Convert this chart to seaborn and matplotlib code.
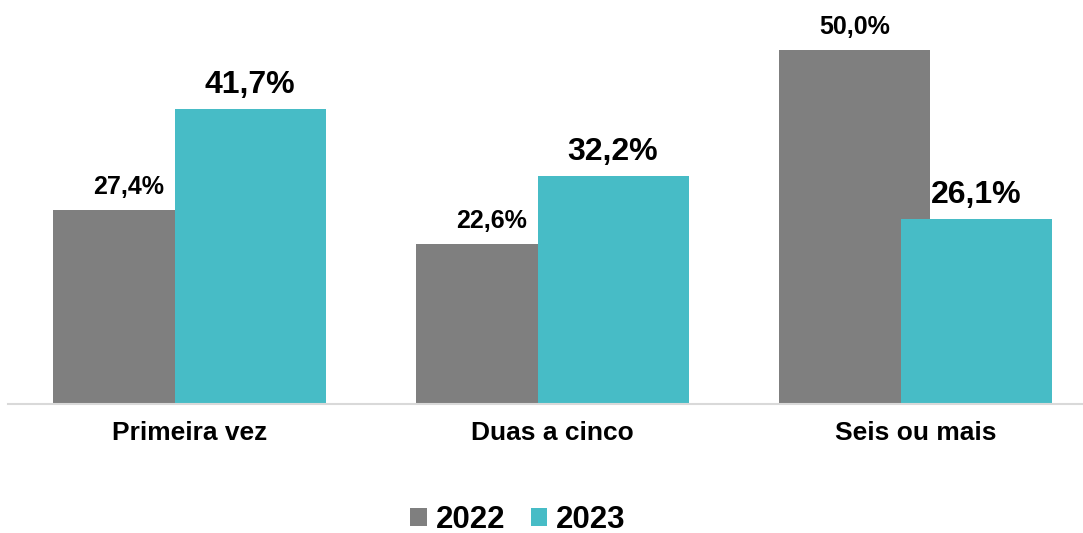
import matplotlib
matplotlib.use("Agg")
import matplotlib.pyplot as plt
import seaborn as sns
import pandas as pd

categories = ["Primeira vez", "Duas a cinco", "Seis ou mais"]
years = ["2022", "2023"]
values_2022 = [27.4, 22.6, 50.0]
values_2023 = [41.7, 32.2, 26.1]

colors = {"2022": "#7F7F7F", "2023": "#47BCC6"}
label_sizes = {"2022": 18, "2023": 23}

df = pd.DataFrame({
    "categoria": categories * 2,
    "ano": ["2022"] * 3 + ["2023"] * 3,
    "valor": values_2022 + values_2023,
})

sns.set_theme(style="white")
plt.rcParams["font.family"] = ["Liberation Sans", "DejaVu Sans"]
plt.rcParams["text.color"] = "black"

fig = plt.figure(figsize=(10.83, 5.33), dpi=100)
W, H = 1083, 533
ax = fig.add_axes([8 / W, (H - 404) / H, (W - 8) / W, 389 / H])

sns.barplot(data=df, x="categoria", y="valor", hue="ano", order=categories,
            hue_order=years, palette=colors, width=0.667, saturation=1,
            linewidth=0, ax=ax, legend=True)

# widen each bar so the two years overlap slightly
bar_w = 0.416
for patch in ax.patches:
    if patch.get_height() <= 0:
        continue
    cx = patch.get_x() + patch.get_width() / 2
    patch.set_x(cx - bar_w / 2)
    patch.set_width(bar_w)

# value labels above each bar
for container, year in zip(ax.containers, years):
    for patch in container:
        h = patch.get_height()
        cx = patch.get_x() + patch.get_width() / 2
        ax.annotate(f"{h:.1f}%".replace(".", ","), (cx, h),
                    xytext=(0, 11.8), textcoords="offset points",
                    ha="center", va="baseline", fontsize=label_sizes[year],
                    fontweight="bold", color="black")

ax.set_xlim(-0.5, (W - 8) / 363 - 0.5)
ax.set_ylim(0, 55)
ax.set_xlabel("")
ax.set_ylabel("")
ax.set_yticks([])
ax.tick_params(axis="x", length=0, pad=12, labelsize=19)
for lbl in ax.get_xticklabels():
    lbl.set_fontweight("bold")
    lbl.set_color("black")

for side in ["top", "right", "left"]:
    ax.spines[side].set_visible(False)
ax.spines["bottom"].set_color("#D9D9D9")
ax.spines["bottom"].set_linewidth(1.5)

handles, labels = ax.get_legend_handles_labels()
ax.get_legend().remove()
leg = fig.legend(handles, labels, loc="center", ncol=2,
                 bbox_to_anchor=(518 / W, 1 - 520 / H), frameon=False,
                 prop={"size": 22.5, "weight": "bold"},
                 handlelength=0.52, handleheight=0.52, handletextpad=0.3,
                 columnspacing=0.8, borderaxespad=0, labelcolor="black")

fig.savefig("out.png", dpi=100)
